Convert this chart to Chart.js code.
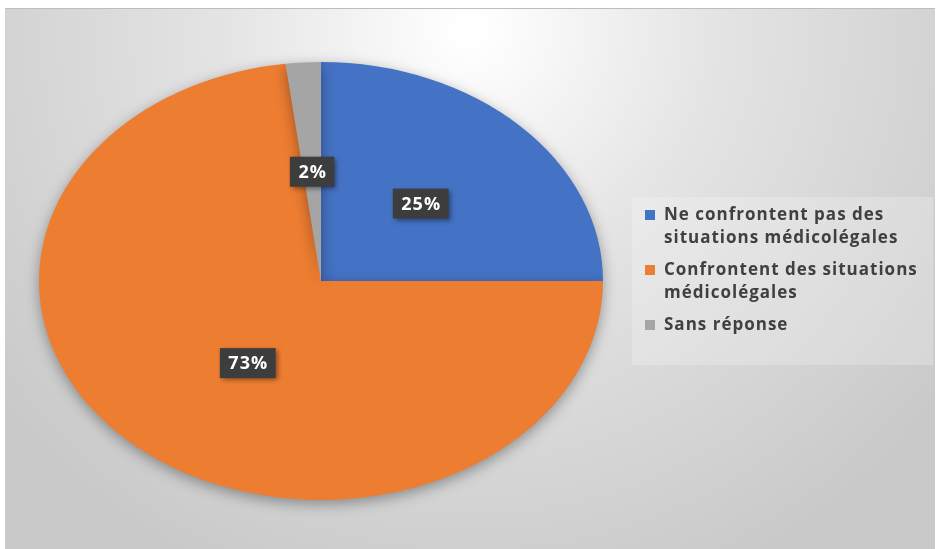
<!DOCTYPE html>
<html>
<head>
<meta charset="utf-8">
<script src="https://cdn.jsdelivr.net/npm/chart.js@4.4.1/dist/chart.umd.min.js"></script>
<style>
  html, body { margin: 0; padding: 0; background: #fff; }
  #wrap { width: 939px; height: 549px; position: relative; }
</style>
</head>
<body>
<div id="wrap"><canvas id="c" width="939" height="549"></canvas></div>
<script>
// Réponses des participants
const categories = [
  ["Ne confrontent pas des", "situations médicolégales"],
  ["Confrontent des situations", "médicolégales"],
  ["Sans réponse"]
];
const values = [25, 73, 2];
const colors = ["#4472C4", "#ED7D31", "#A5A5A5"];

// Horizontal stretch applied to the pie so it is drawn as an ellipse
const STRETCH = 282 / 219;

const backgroundPlugin = {
  id: 'panelBackground',
  beforeDraw(chart) {
    const ctx = chart.ctx;
    const W = chart.width, H = chart.height;
    ctx.save();
    ctx.fillStyle = '#ffffff';
    ctx.fillRect(0, 0, W, H);
    const x0 = 5, y0 = 8, w = 930, h = H - 8;
    const g = ctx.createRadialGradient(470, 30, 10, 470, 30, 600);
    g.addColorStop(0, '#ffffff');
    g.addColorStop(0.4, '#e4e4e4');
    g.addColorStop(1, '#c9c9c9');
    ctx.fillStyle = g;
    ctx.fillRect(x0, y0, w, h);
    ctx.strokeStyle = '#bdbdbd';
    ctx.lineWidth = 1;
    ctx.beginPath();
    ctx.moveTo(x0, y0 + 0.5); ctx.lineTo(x0 + w, y0 + 0.5);
    ctx.stroke();
    // legend panel
    ctx.fillStyle = 'rgba(255,255,255,0.22)';
    ctx.fillRect(632, 197, 301, 168);
    ctx.restore();
  }
};

const ellipsePlugin = {
  id: 'ellipsePie',
  beforeDatasetsDraw(chart) {
    const ctx = chart.ctx;
    const arc = chart.getDatasetMeta(0).data[0];
    ctx.save();
    ctx.translate(arc.x, arc.y);
    ctx.scale(STRETCH, 1);
    ctx.translate(-arc.x, -arc.y);
    ctx.shadowColor = 'rgba(0,0,0,0.35)';
    ctx.shadowBlur = 14;
    ctx.shadowOffsetY = 4;
  },
  afterDatasetsDraw(chart) {
    chart.ctx.restore();
  }
};

const labelPlugin = {
  id: 'valueLabels',
  afterDatasetsDraw(chart) {
    const ctx = chart.ctx;
    const meta = chart.getDatasetMeta(0);
    const ds = chart.data.datasets[0];
    ctx.save();
    ctx.font = 'bold 18px "Open Sans", sans-serif';
    ctx.letterSpacing = '1px';
    ctx.textAlign = 'center';
    ctx.textBaseline = 'middle';
    meta.data.forEach((arc, i) => {
      const mid = (arc.startAngle + arc.endAngle) / 2;
      const r = arc.outerRadius * 0.5;
      const x = arc.x + Math.cos(mid) * r * STRETCH + (i === 1 ? 20 : 0);
      const y = arc.y + Math.sin(mid) * r;
      const txt = ds.data[i] + '%';
      const tw = ctx.measureText(txt).width;
      const bw = tw + 16, bh = 30;
      ctx.shadowColor = 'rgba(0,0,0,0.45)';
      ctx.shadowBlur = 5;
      ctx.shadowOffsetX = 2;
      ctx.shadowOffsetY = 2;
      ctx.fillStyle = '#3d3d3d';
      ctx.fillRect(x - bw / 2, y - bh / 2, bw, bh);
      ctx.shadowColor = 'transparent';
      ctx.fillStyle = '#ffffff';
      ctx.fillText(txt, x + 0.5, y + 1);
    });
    ctx.restore();
  }
};

const legendPlugin = {
  id: 'sideLegend',
  afterDraw(chart) {
    const ctx = chart.ctx;
    const labels = chart.data.labels;
    const cols = chart.data.datasets[0].backgroundColor;
    ctx.save();
    ctx.font = 'bold 17px "Open Sans", sans-serif';
    ctx.letterSpacing = '1px';
    ctx.textBaseline = 'middle';
    ctx.textAlign = 'left';
    let y = 215;
    labels.forEach((lines, i) => {
      ctx.fillStyle = cols[i];
      ctx.fillRect(645, y - 5, 10, 10);
      ctx.fillStyle = '#404040';
      lines.forEach((ln, j) => {
        ctx.fillText(ln, 664, y + j * 23);
      });
      y += lines.length * 23 + 9;
    });
    ctx.restore();
  }
};

new Chart(document.getElementById('c'), {
  type: 'pie',
  data: {
    labels: categories,
    datasets: [{
      data: values,
      backgroundColor: colors,
      borderWidth: 0
    }]
  },
  options: {
    responsive: false,
    animation: false,
    layout: { padding: { top: 62, bottom: 49, left: 102, right: 399 } },
    plugins: {
      legend: { display: false },
      tooltip: { enabled: false }
    }
  },
  plugins: [backgroundPlugin, ellipsePlugin, labelPlugin, legendPlugin]
});
</script>
</body>
</html>
